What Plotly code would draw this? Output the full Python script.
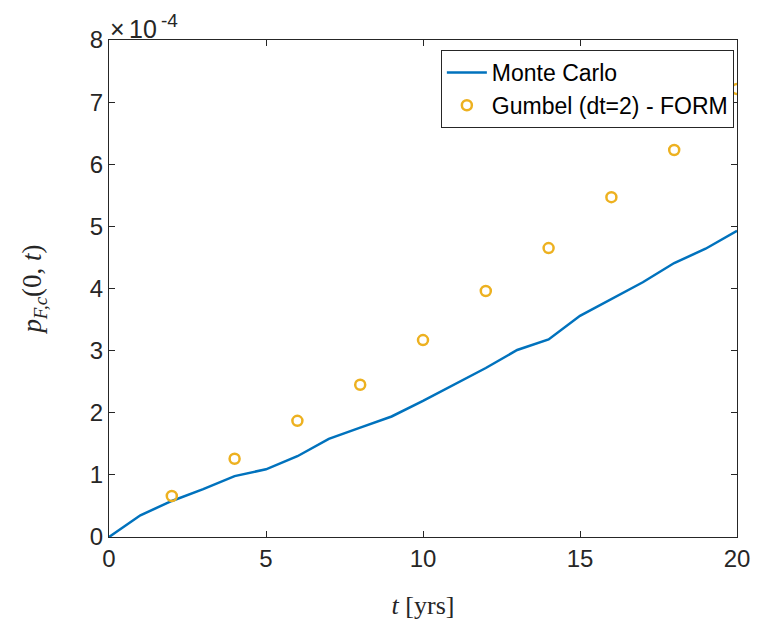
import plotly.graph_objects as go

# Monte Carlo estimate (units of 1e-4)
t_mc = list(range(0, 21))
p_mc = [0.0, 0.35, 0.58, 0.77, 0.98, 1.09, 1.30, 1.58, 1.76, 1.94, 2.19,
        2.45, 2.72, 3.01, 3.18, 3.56, 3.83, 4.10, 4.41, 4.64, 4.93]

# Gumbel (dt=2) - FORM (units of 1e-4)
t_gum = [2, 4, 6, 8, 10, 12, 14, 16, 18, 20]
p_gum = [0.66, 1.26, 1.87, 2.45, 3.17, 3.96, 4.65, 5.47, 6.23, 7.21]

x_ticks = [0, 5, 10, 15, 20]
y_ticks = [0, 1, 2, 3, 4, 5, 6, 7, 8]

axis_col = "#262626"
sans = "Liberation Sans, Arial, sans-serif"
serif = "Liberation Serif, DejaVu Serif, serif"

fig = go.Figure()
fig.add_trace(go.Scatter(x=t_mc, y=p_mc, mode="lines", name="Monte Carlo",
                         line=dict(color="#0072BD", width=2.5)))
fig.add_trace(go.Scatter(x=t_gum, y=p_gum, mode="markers", name="Gumbel (dt=2) - FORM",
                         marker=dict(symbol="circle-open", color="#EDB120", size=10,
                                     line=dict(width=2.5, color="#EDB120"))))

axcommon = dict(showgrid=False, zeroline=False, showline=True, mirror="ticks",
                linecolor=axis_col, linewidth=1, ticks="inside", ticklen=6,
                tickcolor=axis_col, automargin=False,
                tickfont=dict(family=sans, size=24, color=axis_col))

def exp_note(text, xshift, yshift, size):
    return dict(text=text, xref="paper", yref="paper", x=0, y=1,
                xanchor="left", yanchor="bottom", xshift=xshift, yshift=yshift,
                showarrow=False, font=dict(family=sans, size=size, color=axis_col))

fig.update_layout(
    width=751, height=614,
    margin=dict(l=101, r=22, t=32, b=85),
    paper_bgcolor="white", plot_bgcolor="white",
    xaxis=dict(range=[0, 20], tickvals=x_ticks, **axcommon,
               title=dict(text="<i>t</i> [yrs]", font=dict(family=serif, size=26, color=axis_col),
                          standoff=25)),
    yaxis=dict(range=[0, 8], tickvals=y_ticks, **axcommon,
               title=dict(text="<i>p</i><sub><i>F,c</i></sub>(0, <i>t</i>)",
                          font=dict(family=serif, size=27, color=axis_col), standoff=40)),
    legend=dict(x=0.995, y=0.98, xanchor="right", yanchor="top",
                bgcolor="white", bordercolor=axis_col, borderwidth=1,
                font=dict(family=sans, size=23, color="black"),
                tracegroupgap=0, itemwidth=40),
    showlegend=True,
    annotations=[exp_note("\u00d7", -1, -5, 25),
                 exp_note("10", 18, -5, 25),
                 exp_note("-4", 50, 7, 19)],
)

fig.write_html("out.html")
